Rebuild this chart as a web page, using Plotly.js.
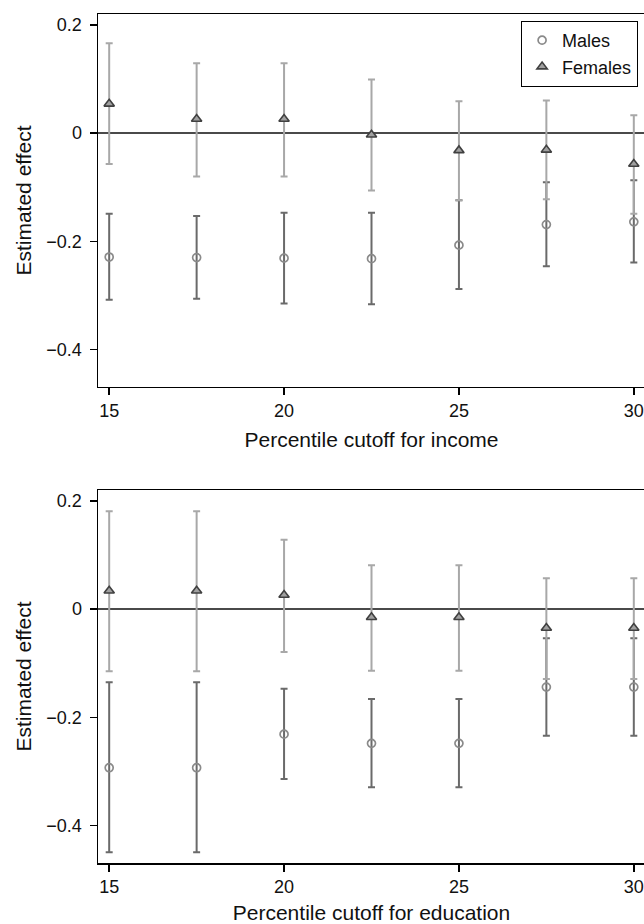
<!DOCTYPE html>
<html>
<head>
<meta charset="utf-8">
<script src="https://cdn.plot.ly/plotly-3.0.1.min.js"></script>
<style>
html, body { margin: 0; padding: 0; width: 644px; height: 924px; overflow: hidden; background: #fff; }
#chart { width: 660px; height: 924px; }
</style>
</head>
<body>
<div id="chart"></div>
<script>
// Percentile cutoffs (x)
const cutoffs = [15, 17.5, 20, 22.5, 25, 27.5, 30];
const xTicks = [15, 20, 25, 30];
const yTicks = [-0.4, -0.2, 0, 0.2];

// Panel 1: income
const maleIncEst = [-0.229, -0.230, -0.231, -0.232, -0.207, -0.169, -0.164];
const maleIncLo  = [-0.308, -0.306, -0.315, -0.316, -0.288, -0.246, -0.239];
const maleIncHi  = [-0.149, -0.153, -0.147, -0.147, -0.124, -0.091, -0.087];
const femIncEst  = [0.054, 0.026, 0.026, -0.003, -0.032, -0.031, -0.057];
const femIncLo   = [-0.057, -0.080, -0.080, -0.106, -0.124, -0.122, -0.149];
const femIncHi   = [0.166, 0.129, 0.129, 0.099, 0.059, 0.060, 0.033];

// Panel 2: education
const maleEduEst = [-0.293, -0.293, -0.231, -0.248, -0.248, -0.144, -0.144];
const maleEduLo  = [-0.449, -0.449, -0.314, -0.329, -0.329, -0.234, -0.234];
const maleEduHi  = [-0.135, -0.135, -0.147, -0.166, -0.166, -0.054, -0.054];
const femEduEst  = [0.034, 0.034, 0.026, -0.015, -0.015, -0.035, -0.035];
const femEduLo   = [-0.115, -0.115, -0.079, -0.114, -0.114, -0.129, -0.129];
const femEduHi   = [0.181, 0.181, 0.128, 0.081, 0.081, 0.057, 0.057];

const seriesNames = ['Males', 'Females'];
const xTitles = ['Percentile cutoff for income', 'Percentile cutoff for education'];
const yTitle = 'Estimated effect';

const FONT = 'Liberation Sans, Arial, Helvetica, sans-serif';
const maleBar = '#6a6a6a', femBar = '#a8a8a8';

function errs(est, lo, hi) {
  return {
    plus: est.map((v, i) => hi[i] - v),
    minus: est.map((v, i) => v - lo[i])
  };
}

function maleTrace(est, lo, hi, xa, ya, show) {
  const e = errs(est, lo, hi);
  return {
    type: 'scatter', mode: 'markers', name: seriesNames[0],
    x: cutoffs, y: est, xaxis: xa, yaxis: ya, showlegend: show, legendrank: 1,
    marker: { symbol: 'circle-open', size: 8, color: '#8a8a8a', line: { width: 1.7, color: '#8a8a8a' } },
    error_y: { type: 'data', array: e.plus, arrayminus: e.minus, color: maleBar, thickness: 2, width: 3.5 }
  };
}
function femTrace(est, lo, hi, xa, ya, show) {
  const e = errs(est, lo, hi);
  return {
    type: 'scatter', mode: 'markers', name: seriesNames[1],
    x: cutoffs, y: est, xaxis: xa, yaxis: ya, showlegend: show, legendrank: 2,
    marker: { symbol: 'triangle-up', size: 9, color: '#a0a0a0', line: { width: 1.6, color: '#404040' } },
    error_y: { type: 'data', array: e.plus, arrayminus: e.minus, color: femBar, thickness: 2, width: 3.5 }
  };
}

const data = [
  maleTrace(maleIncEst, maleIncLo, maleIncHi, 'x', 'y', true),
  femTrace(femIncEst, femIncLo, femIncHi, 'x', 'y', true),
  maleTrace(maleEduEst, maleEduLo, maleEduHi, 'x2', 'y2', false),
  femTrace(femEduEst, femEduLo, femEduHi, 'x2', 'y2', false)
];

function xAxis(title, anchor) {
  return {
    anchor: anchor, domain: [0, 1], range: [14.68, 30.32],
    tickvals: xTicks, ticks: 'outside', ticklen: 7, tickwidth: 1.5, tickcolor: '#000',
    showline: true, mirror: true, linecolor: '#000', linewidth: 1.5,
    showgrid: false, zeroline: false,
    tickfont: { family: FONT, size: 18, color: '#111' },
    title: { text: title, font: { family: FONT, size: 21, color: '#111' }, standoff: 12 }
  };
}
function yAxis(domain, anchor) {
  return {
    anchor: anchor, domain: domain, range: [-0.469, 0.22],
    tickvals: yTicks, ticks: 'outside', ticklen: 7, tickwidth: 1.5, tickcolor: '#000',
    showline: true, mirror: true, linecolor: '#000', linewidth: 1.5,
    showgrid: false, zeroline: true, zerolinecolor: '#4a4a4a', zerolinewidth: 1.8,
    ticklabelstandoff: 4,
    tickfont: { family: FONT, size: 18, color: '#111' },
    title: { text: yTitle, font: { family: FONT, size: 21, color: '#111' }, standoff: 9 }
  };
}

const layout = {
  width: 660, height: 924,
  margin: { l: 98, r: 15, t: 14, b: 61 },
  paper_bgcolor: '#fff', plot_bgcolor: '#fff',
  font: { family: FONT, color: '#111' },
  xaxis: xAxis(xTitles[0], 'y'),
  yaxis: yAxis([0.5607, 1], 'x'),
  xaxis2: xAxis(xTitles[1], 'y2'),
  yaxis2: yAxis([0, 0.4393], 'x2'),
  showlegend: true,
  legend: {
    x: 0.987, xanchor: 'right', y: 0.992, yanchor: 'top',
    bgcolor: '#fff', bordercolor: '#000', borderwidth: 1.2,
    font: { family: FONT, size: 18, color: '#111' },
    itemwidth: 30, tracegroupgap: 0
  }
};

Plotly.newPlot('chart', data, layout, { displayModeBar: false, staticPlot: true });
</script>
</body>
</html>
